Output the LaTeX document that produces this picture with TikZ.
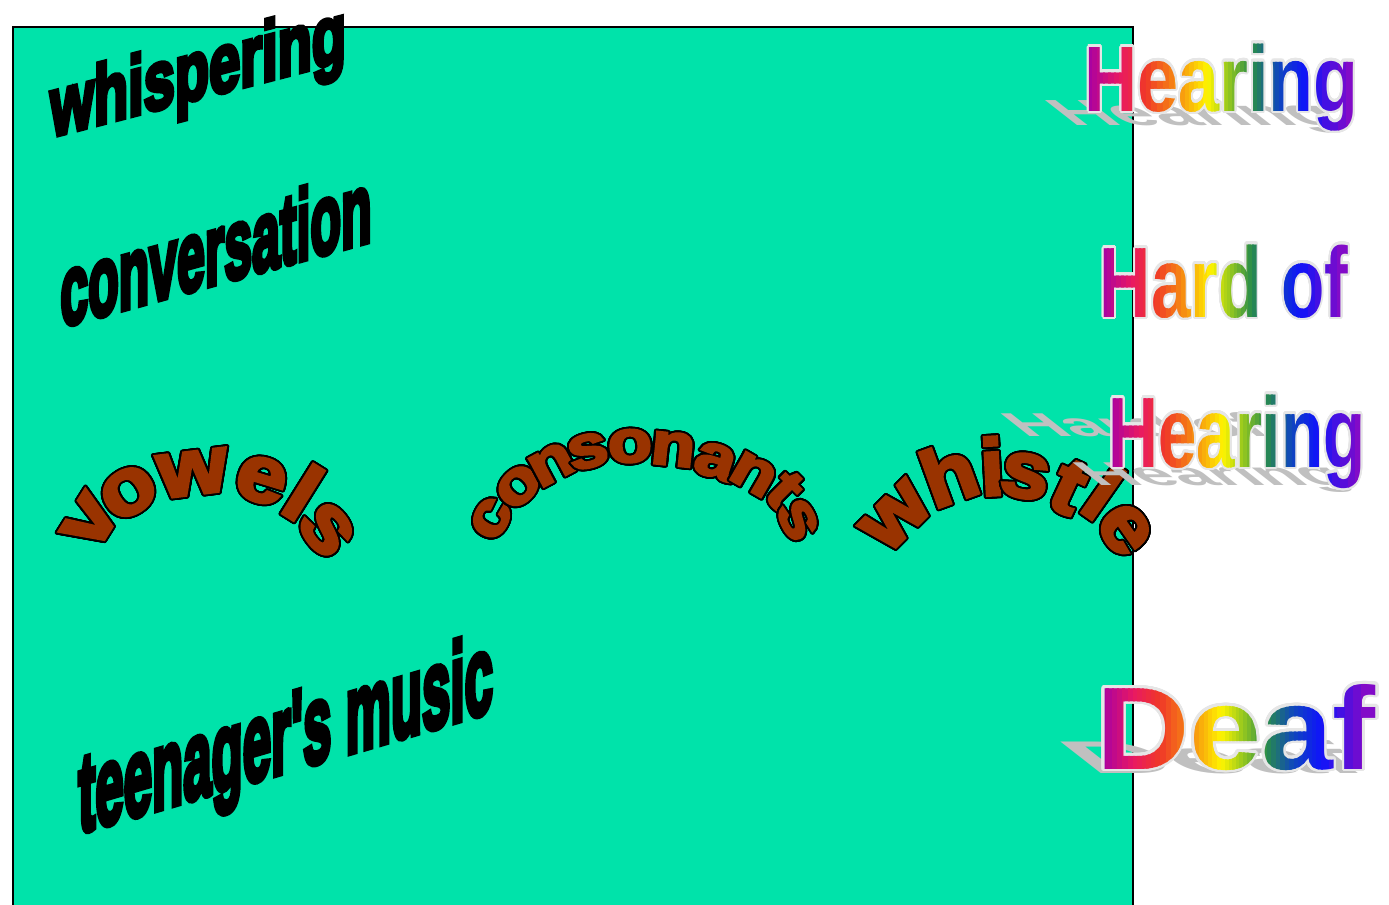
\documentclass[tikz,border=0pt]{standalone}
\usepackage{fontspec}
\usepackage{contour}
\contournumber{32}
\newfontfamily\wablk{Liberation Sans}[BoldFeatures={FakeBold=6}]
\newfontfamily\wabrn{Liberation Sans}[BoldFeatures={FakeBold=4}]
\newfontfamily\warb{Liberation Sans}
\definecolor{bggreen}{RGB}{0,227,170}
\definecolor{wbrown}{RGB}{153,51,0}
\definecolor{shgray}{RGB}{192,192,192}
\definecolor{olgray}{RGB}{230,230,230}
\definecolor{rb0}{RGB}{165,0,165}
\definecolor{rb1}{RGB}{232,24,100}
\definecolor{rb2}{RGB}{240,55,40}
\definecolor{rb3}{RGB}{247,150,15}
\definecolor{rb4}{RGB}{255,245,0}
\definecolor{rb5}{RGB}{150,200,30}
\definecolor{rb6}{RGB}{40,140,75}
\definecolor{rb7}{RGB}{15,70,190}
\definecolor{rb8}{RGB}{15,20,250}
\definecolor{rb9}{RGB}{140,10,195}
\tikzset{
  slanttxt/.style={anchor=base west, inner sep=0, text=black},
  brn/.style={inner sep=0, text=wbrown, anchor=center},
  vow/.style={brn, font=\wabrn\bfseries\fontsize{40}{40}\selectfont, xscale=1.12},
  con/.style={brn, font=\wabrn\bfseries\fontsize{30}{30}\selectfont, xscale=1.2},
  whi/.style={brn, font=\wabrn\bfseries\fontsize{40}{40}\selectfont, xscale=1.08},
  rbt/.style={anchor=base, inner sep=0},
  shad/.style={rbt, text=shgray, transform shape},
}
% #1 name, #2 text, #3 cx, #4 baseline y, #5 width, #6 font size, #7 xscale
\newcommand\rbtext[7]{%
  \node[rbt, font=\warb\bfseries\fontsize{#6}{#6}\selectfont, xscale=#7, text=olgray]
     (#1o) at (#3,#4) {\contourlength{1.3pt}\contour{olgray}{#2}};
  \foreach \a/\b/\ca/\cb [count=\k] in {0/12/rb0/rb1, 12/22/rb1/rb2, 22/35/rb2/rb3,
      35/45/rb3/rb4, 45/53/rb4/rb5, 53/62/rb5/rb6, 62/72/rb6/rb7, 72/82/rb7/rb8, 82/100/rb8/rb9}{
    \foreach \j in {0,...,5}{
      \pgfmathsetmacro\fl{(\a+(\b-\a)*\j/6)/100}
      \pgfmathsetmacro\fr{(\a+(\b-\a)*(\j+1)/6)/100}
      \pgfmathsetmacro\xl{#3-#5/2+#5*\fl-0.7-40*(\a==0)*(\j==0)}
      \pgfmathsetmacro\xr{#3-#5/2+#5*\fr+0.7+40*(\b==100)*(\j==5)}
      \pgfmathsetmacro\pc{100*(\j+0.5)/6}
      \begin{scope}
        \clip (\xl,#4-140) rectangle (\xr,#4+60);
        \node[rbt, font=\warb\bfseries\fontsize{#6}{#6}\selectfont, xscale=#7, text=\cb!\pc!\ca]
           (#1s\k x\j) at (#3,#4) {#2};
      \end{scope}
    }
  }
}
\begin{document}
\begin{tikzpicture}[x=0.5pt,y=-0.5pt]
\useasboundingbox (0,0) rectangle (1389,905);
\fill[white] (0,0) rectangle (1389,905);
\draw[fill=bggreen, line width=1pt] (13,27) rectangle (1133,930);

% slanted black words
\node[slanttxt, font=\wablk\bfseries\fontsize{28}{28}\selectfont, yslant=0.26, yscale=1.5]
  (whisp) at (50,137) {whispering};
\node[slanttxt, font=\wablk\bfseries\fontsize{25}{25}\selectfont, yslant=0.277, yscale=2.0]
  (conv) at (60,327) {conversation};
\node[slanttxt, font=\wablk\bfseries\fontsize{25.5}{25.5}\selectfont, yslant=0.295, yscale=2.2]
  (teen) at (78,833) {teenager's music};

% arched brown words
\contourlength{0.9pt}
\node[rotate=58, vow] (v1) at (91,522) {\contour{black}{v}};
\node[rotate=32, vow] (v2) at (129,493) {\contour{black}{o}};
\node[rotate=7, vow] (v3) at (193,474) {\contour{black}{w}};
\node[rotate=-17, vow] (v4) at (261,481) {\contour{black}{e}};
\node[rotate=-32, vow] (v5) at (303,493) {\contour{black}{l}};
\node[rotate=-52, vow] (v6) at (326,530) {\contour{black}{s}};

\node[rotate=62, con] (c1) at (492,519) {\contour{black}{c}};
\node[rotate=45, con] (c2) at (519,487) {\contour{black}{o}};
\node[rotate=28, con] (c3) at (552,465) {\contour{black}{n}};
\node[rotate=14, con] (c4) at (588,452) {\contour{black}{s}};
\node[rotate=2, con] (c5) at (630,447) {\contour{black}{o}};
\node[rotate=-6, con] (c6) at (673,450) {\contour{black}{n}};
\node[rotate=-18, con] (c7) at (715,462) {\contour{black}{a}};
\node[rotate=-30, con] (c8) at (753,475) {\contour{black}{n}};
\node[rotate=-45, con] (c9) at (784,491) {\contour{black}{t}};
\node[rotate=-63, con] (c10) at (797,520) {\contour{black}{s}};

\node[rotate=45, whi] (w1) at (897,517) {\contour{black}{w}};
\node[rotate=20, whi] (w2) at (949,474) {\contour{black}{h}};
\node[rotate=3, whi] (w3) at (992,467) {\contour{black}{i}};
\node[rotate=-10, whi] (w4) at (1025,477) {\contour{black}{s}};
\node[rotate=-25, whi] (w5) at (1068,488) {\contour{black}{t}};
\node[rotate=-35, whi] (w6) at (1103,493) {\contour{black}{l}};
\node[rotate=-55, whi] (w7) at (1124,530) {\contour{black}{e}};

% shadows
\begin{scope}[shift={(0,135)}, cm={1,0,-0.5,0.39,(0,0)}, shift={(0,-135)}]
  \node[shad, font=\warb\bfseries\fontsize{46.5}{46.5}\selectfont, xscale=0.79] (sh1) at (1221.5,111) {Hearing};
\end{scope}
\begin{scope}[shift={(0,495)}, cm={1,0,-0.42,0.33,(0,0)}, shift={(0,-495)}]
  \node[shad, font=\warb\bfseries\fontsize{50}{50}\selectfont, xscale=0.71] (sh2) at (1224,317) {Hard of};
  \node[shad, font=\warb\bfseries\fontsize{50}{50}\selectfont, xscale=0.69] (sh3) at (1237,467) {Hearing};
\end{scope}
\begin{scope}[shift={(0,777)}, cm={1,0,-0.5,0.39,(0,0)}, shift={(0,-777)}]
  \node[shad, font=\warb\bfseries\fontsize{58.7}{58.7}\selectfont, xscale=1.10] (sh4) at (1236,769) {Deaf};
\end{scope}

% rainbow words
\rbtext{ra}{Hearing}{1221.5}{111}{267}{46.5}{0.79}
\rbtext{rb}{Hard of}{1224}{317}{242}{50}{0.71}
\rbtext{rc}{Hearing}{1237}{467}{254}{50}{0.69}
\rbtext{rd}{Deaf}{1236}{769}{268}{58.7}{1.10}
\end{tikzpicture}
\end{document}
